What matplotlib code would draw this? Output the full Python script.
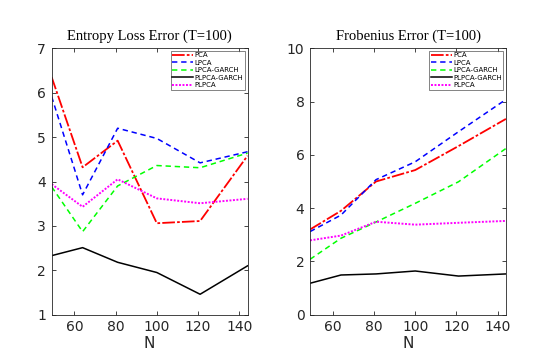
import numpy as np
import matplotlib.pyplot as plt

# N values (7^2 ... 12^2)
N = [49, 64, 81, 100, 121, 144]
labels = ['PCA', 'LPCA', 'LPCA-GARCH', 'PLPCA-GARCH', 'PLPCA']

# Entropy loss error
ent_pca = [6.35, 4.32, 4.92, 3.06, 3.11, 4.58]
ent_lpca = [5.91, 3.70, 5.20, 4.97, 4.42, 4.67]
ent_lgarch = [3.88, 2.87, 3.90, 4.36, 4.31, 4.64]
ent_plgarch = [2.33, 2.51, 2.18, 1.95, 1.46, 2.10]
ent_plpca = [3.94, 3.43, 4.05, 3.62, 3.51, 3.61]

# Frobenius error
fro_pca = [3.20, 3.90, 5.00, 5.43, 6.33, 7.35]
fro_lpca = [3.12, 3.74, 5.07, 5.74, 6.87, 8.08]
fro_lgarch = [2.08, 2.87, 3.48, 4.18, 4.99, 6.24]
fro_plgarch = [1.18, 1.49, 1.53, 1.64, 1.45, 1.53]
fro_plpca = [2.79, 2.97, 3.49, 3.38, 3.45, 3.52]

colors = ['#ff0000', '#0000ff', '#00ff00', '#000000', '#ff00ff']
dashes = [(7, 1.2, 1.5, 1.2), (3.5, 2.5), (3.5, 2.5), None, (1, 0.8)]
widths = [1.3, 1.1, 1.1, 1.1, 1.4]

fig = plt.figure(figsize=(5.44, 3.58), dpi=100)
ax1 = fig.add_axes([0.095, 0.121, 0.360, 0.744])
ax2 = fig.add_axes([0.570, 0.121, 0.360, 0.744])

panels = [
    (ax1, [ent_pca, ent_lpca, ent_lgarch, ent_plgarch, ent_plpca],
     'Entropy Loss Error (T=100)', (1, 7), [1, 2, 3, 4, 5, 6, 7]),
    (ax2, [fro_pca, fro_lpca, fro_lgarch, fro_plgarch, fro_plpca],
     'Frobenius Error (T=100)', (0, 10), [0, 2, 4, 6, 8, 10]),
]

axcol = '#262626'
for ax, series, title, ylim, yticks in panels:
    for y, lab, c, d, lw in zip(series, labels, colors, dashes, widths):
        line, = ax.plot(N, y, color=c, linewidth=lw, label=lab)
        if d is not None:
            line.set_dashes(d)
    ax.set_xlim(49, 144)
    ax.set_ylim(*ylim)
    ax.set_xticks([60, 80, 100, 120, 140])
    ax.set_yticks(yticks)
    ax.tick_params(direction='in', top=True, right=True, length=3,
                   width=0.6, labelsize=10, colors=axcol, pad=4)
    for s in ax.spines.values():
        s.set_color(axcol)
        s.set_linewidth(0.6)
    ax.set_title(title, fontsize=10.5, family='Liberation Serif', pad=6)
    ax.set_xlabel('N', fontsize=11, color=axcol, labelpad=1)
    leg = ax.legend(loc='upper right', fontsize=5, frameon=True,
                    fancybox=False, borderaxespad=0.35, handlelength=3.0,
                    handletextpad=0.2, borderpad=0.25, labelspacing=0.2)
    leg.get_frame().set_edgecolor(axcol)
    leg.get_frame().set_linewidth(0.5)

fig.savefig('out.png', dpi=100)
